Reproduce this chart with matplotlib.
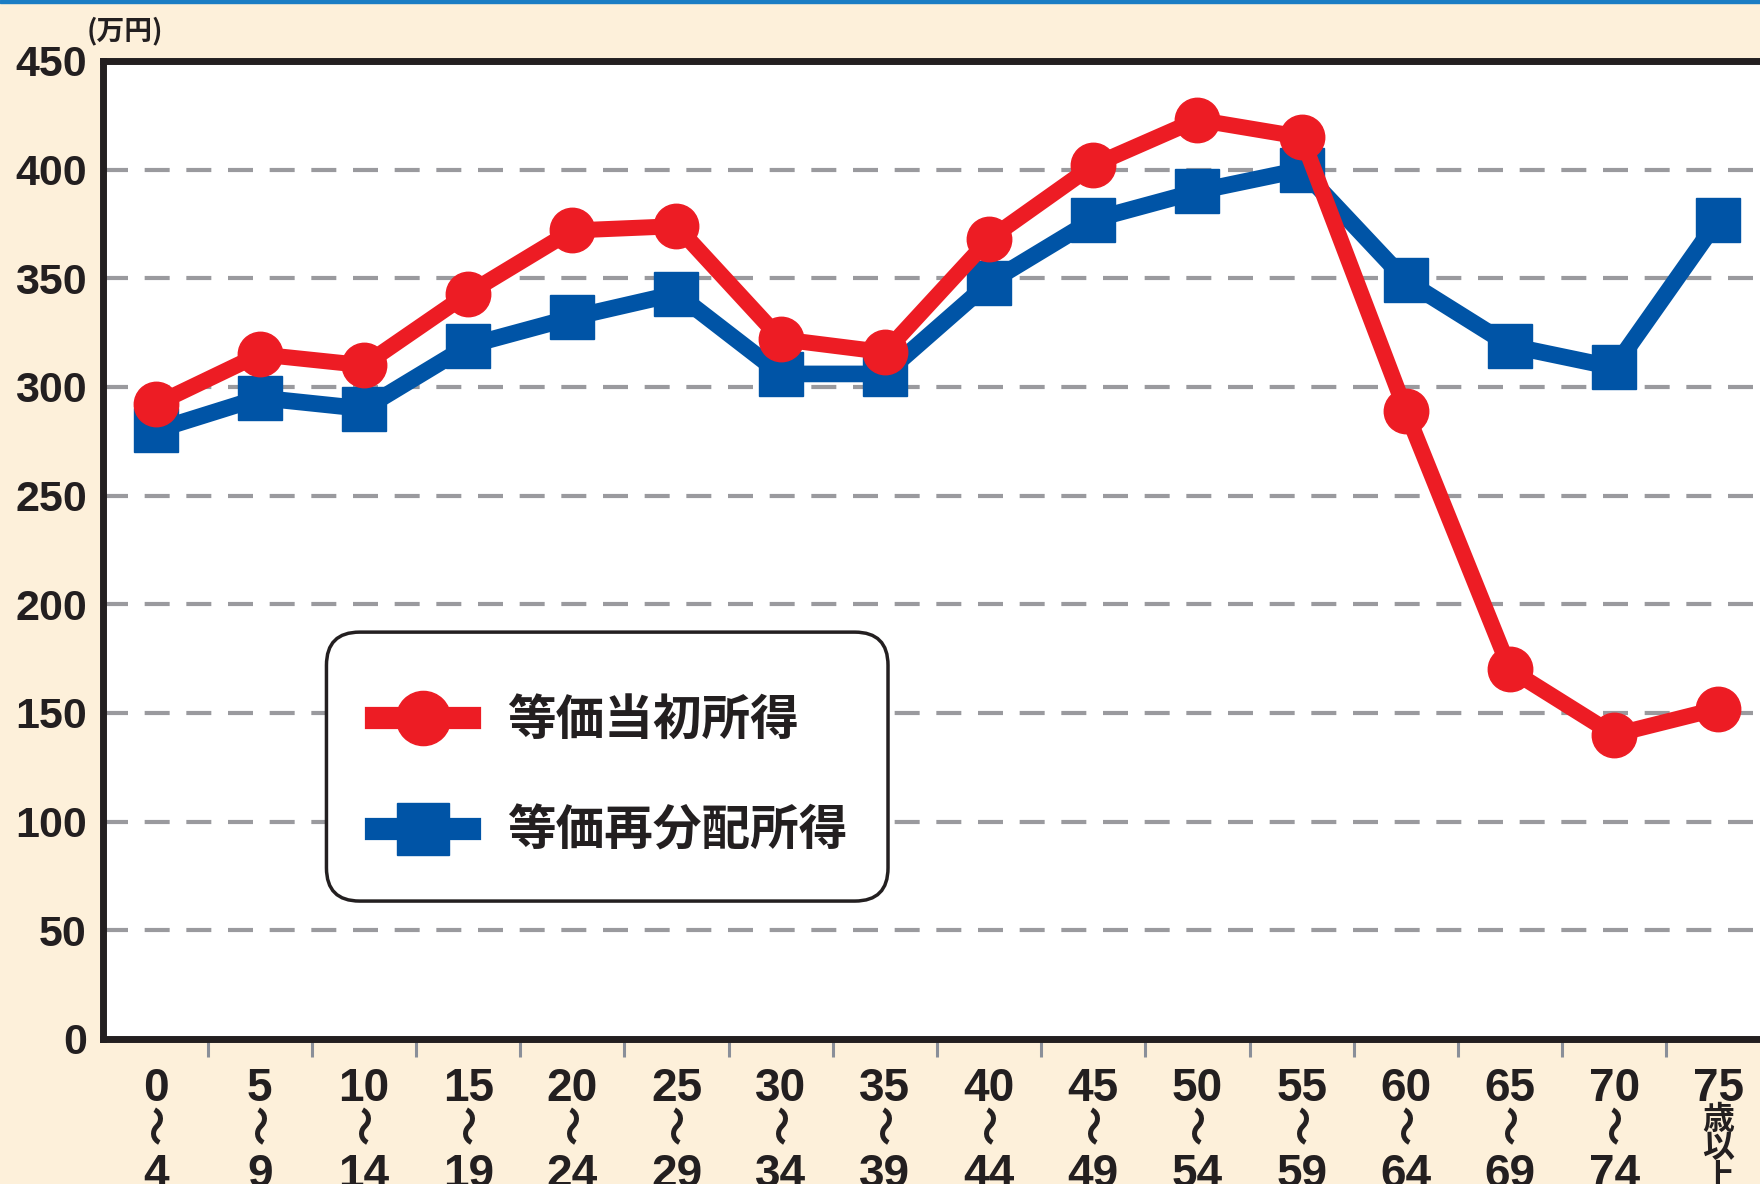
import matplotlib
matplotlib.use('Agg')
import matplotlib.pyplot as plt
from matplotlib.lines import Line2D
from matplotlib.patches import FancyBboxPatch, Rectangle
from matplotlib.transforms import blended_transform_factory

# age groups (lower / upper bound of each 5-year band)
age_from = ['0', '5', '10', '15', '20', '25', '30', '35', '40', '45',
            '50', '55', '60', '65', '70', '75']
age_to = ['4', '9', '14', '19', '24', '29', '34', '39', '44', '49',
          '54', '59', '64', '69', '74', '']
range_mark = '〜'
over_label = '歳\n以\n上'

# 万円
initial_income = [292, 315, 310, 343, 372, 374, 322, 316, 368, 402,
                  423, 415, 289, 170, 140, 152]
redistributed_income = [280, 295, 290, 319, 332, 343, 306, 306, 348, 377,
                        390, 400, 349, 319, 309, 377]
series_names = ['等価当初所得', '等価再分配所得']
y_ticks = [0, 50, 100, 150, 200, 250, 300, 350, 400, 450]
unit_label = '(万円)'

RED = '#ed1c24'
BLUE = '#0054a6'
INK = '#231f20'
CREAM = '#fdf0da'
GRID = '#9a9a9e'

CJK = ['Noto Sans CJK JP', 'DejaVu Sans']
NUM = ['Liberation Sans', 'DejaVu Sans']

fig = plt.figure(figsize=(17.6, 11.84), dpi=100, facecolor=CREAM)
ax = fig.add_axes([0.0588, 0.1225, 0.9412, 0.826])
ax.set_facecolor('white')

x = list(range(len(age_from)))
ax.plot(x, redistributed_income, color=BLUE, lw=12, marker='s', ms=32,
        zorder=4)
ax.plot(x, initial_income, color=RED, lw=11.5, marker='o', ms=32,
        zorder=5)

ax.set_xlim(-0.5, 15.4)
ax.set_ylim(0, 450)

# axes frame
for side in ['left', 'bottom', 'top']:
    ax.spines[side].set_color(INK)
    ax.spines[side].set_linewidth(5)
ax.spines['right'].set_visible(False)

# y axis
ax.set_yticks(y_ticks)
ax.set_yticklabels([str(v) for v in y_ticks], family=NUM, fontweight='bold',
                   fontsize=31, color=INK)
ax.tick_params(axis='y', length=0, pad=12)
ax.yaxis.grid(True, color=GRID, lw=3, linestyle=(0, (6, 4)))
ax.set_axisbelow(True)

# x axis: lower bound as tick label, small grey ticks between categories
ax.set_xticks(x)
ax.set_xticklabels(age_from, family=NUM, fontweight='bold', fontsize=33,
                   color=INK)
ax.tick_params(axis='x', length=0, pad=20)
ax.set_xticks([i + 0.5 for i in x[:-1]], minor=True)
ax.tick_params(axis='x', which='minor', length=13, width=2.2, color='#8a8f99',
               direction='out')

# vertical wave dash and upper bound under each lower bound
trans = blended_transform_factory(ax.transData, ax.transAxes)
for xi, b in zip(x, age_to):
    if b:
        ax.annotate(range_mark, xy=(xi, -0.089), xycoords=trans,
                    xytext=(-3.6, 0), textcoords='offset points',
                    ha='center', va='center', rotation=-90,
                    rotation_mode='anchor', family=CJK, fontweight='bold',
                    fontsize=29, color=INK, annotation_clip=False)
        ax.text(xi, -0.1513, b, transform=trans, ha='center', va='baseline',
                family=NUM, fontweight='bold', fontsize=33, color=INK)
ax.text(x[-1], -0.066, over_label, transform=trans, ha='center', va='top',
        family=CJK, fontweight='bold', fontsize=23, color=INK, linespacing=0.88)

# unit
ax.text(-0.01, 1.031, unit_label, transform=ax.transAxes, ha='left',
        va='center', family=CJK, fontweight='bold', fontsize=20, color=INK)

# legend box
box = FancyBboxPatch((0.1346, 0.141), 0.339, 0.275,
                     boxstyle='round,pad=0,rounding_size=0.02',
                     mutation_aspect=1657 / 978, transform=ax.transAxes,
                     facecolor='white', edgecolor=INK, lw=2.5, zorder=6)
ax.add_patch(box)
handles = [Line2D([], [], color=RED, lw=16, marker='o', ms=39),
           Line2D([], [], color=BLUE, lw=16, marker='s', ms=38)]
leg = ax.legend(handles, series_names, loc='upper left',
                bbox_to_anchor=(0.1648, 0.351), frameon=False,
                prop={'family': CJK, 'weight': 'bold', 'size': 35},
                handlelength=1.93, handletextpad=0.76, labelspacing=1.28,
                borderpad=0, borderaxespad=0)
leg.set_zorder(7)
for t in leg.get_texts():
    t.set_color(INK)

# blue rule along the top edge
fig.patches.append(Rectangle((0, 1 - 3 / 1184), 1, 3 / 1184,
                             transform=fig.transFigure, color='#1b7dc4'))

fig.savefig('out.png', dpi=100, facecolor=CREAM)
